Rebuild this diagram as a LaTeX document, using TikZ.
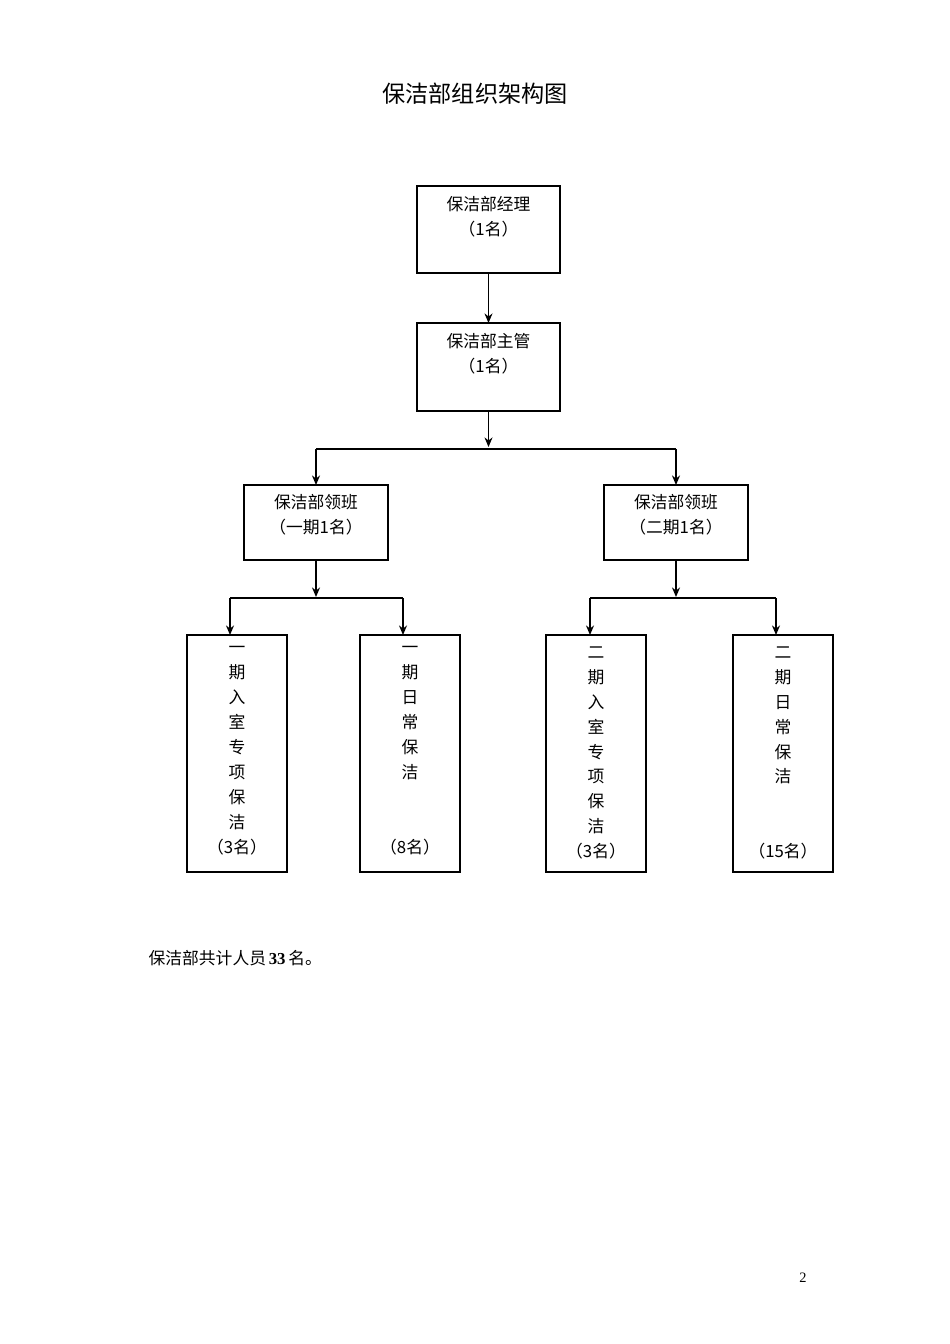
\documentclass[tikz,border=0pt]{standalone}
\usepackage{fontspec}
\setmainfont{Liberation Serif}
\newfontfamily\cjk{Noto Sans CJK SC}
\usetikzlibrary{arrows.meta}
\begin{document}
\begin{tikzpicture}[x=0.626pt,y=-0.626pt,
  box/.style={draw,line width=0.8pt,inner sep=0pt},
  lbl/.style={font=\cjk\fontsize{10.5pt}{15.6pt}\selectfont,align=center},
  arr/.style={line width=0.9pt,-{Stealth[length=6pt,width=5pt]}},
  ln/.style={line width=0.9pt}]
\useasboundingbox (0,0) rectangle (950,1344);
\node[font=\cjk\fontsize{14.5pt}{17pt}\selectfont] (title) at (475,94) {保洁部组织架构图};
% boxes
\draw[box] (417,186) rectangle (560,273); \coordinate (m) at (488.5,229.5);
\node[lbl] (mt) at (488.5,217) {保洁部经理\\（1名）};
\draw[box] (417,323) rectangle (560,411);
\node[lbl] (st) at (488.5,354) {保洁部主管\\（1名）};
\draw[box] (244,485) rectangle (388,560);
\node[lbl] (l1) at (316,515) {保洁部领班\\（一期1名）};
\draw[box,line width=1.1pt] (604,485) rectangle (748,560);
\node[lbl] (l2) at (676,515) {保洁部领班\\（二期1名）};
\foreach \x in {187,360,546,733}{\draw[box,line width=1.1pt] (\x,635) rectangle (\x+100,872);}
\node[lbl,anchor=north] (b1) at (237,641) {一\\期\\入\\室\\专\\项\\保\\洁\\（3名）};
\node[lbl,anchor=north] (b2) at (410,641) {一\\期\\日\\常\\保\\洁\\ \\ \\（8名）};
\node[lbl,anchor=north] (b3) at (596,641) {二\\期\\入\\室\\专\\项\\保\\洁\\（3名）};
\node[lbl,anchor=north] (b4) at (783,641) {二\\期\\日\\常\\保\\洁\\ \\ \\（15名）};
% connectors
\coordinate (a1) at (488.5,273); \coordinate (a2) at (488.5,323);
\draw[arr] (a1) -- (a2);
\coordinate (c1) at (488.5,411); \coordinate (c2) at (488.5,447);
\draw[arr] (c1) -- (c2);
\coordinate (h1) at (316,449); \coordinate (h2) at (676,449);
\draw[ln] (h1) -- (h2);
\coordinate (t1) at (316,485); \coordinate (t2) at (676,485);
\draw[arr] (h1) -- (t1); \draw[arr] (h2) -- (t2);
\coordinate (d1) at (316,560); \coordinate (d1e) at (316,597);
\draw[arr] (d1) -- (d1e);
\coordinate (g1) at (230,598); \coordinate (g2) at (403,598);
\draw[ln] (g1) -- (g2);
\coordinate (e1) at (230,635); \coordinate (e2) at (403,635);
\draw[arr] (g1) -- (e1); \draw[arr] (g2) -- (e2);
\coordinate (d2) at (676,560); \coordinate (d2e) at (676,597);
\draw[arr] (d2) -- (d2e);
\coordinate (g3) at (590,598); \coordinate (g4) at (776,598);
\draw[ln] (g3) -- (g4);
\coordinate (e3) at (590,635); \coordinate (e4) at (776,635);
\draw[arr] (g3) -- (e3); \draw[arr] (g4) -- (e4);
% footer
\node[anchor=west,font=\cjk\fontsize{10.5pt}{12pt}\selectfont] (foot) at (143,958) {保洁部共计人员\,{\rmfamily\bfseries 33}\,名。};
\node[font=\fontsize{9pt}{10pt}\selectfont] (pg) at (803,1278) {2};
\end{tikzpicture}
\end{document}
